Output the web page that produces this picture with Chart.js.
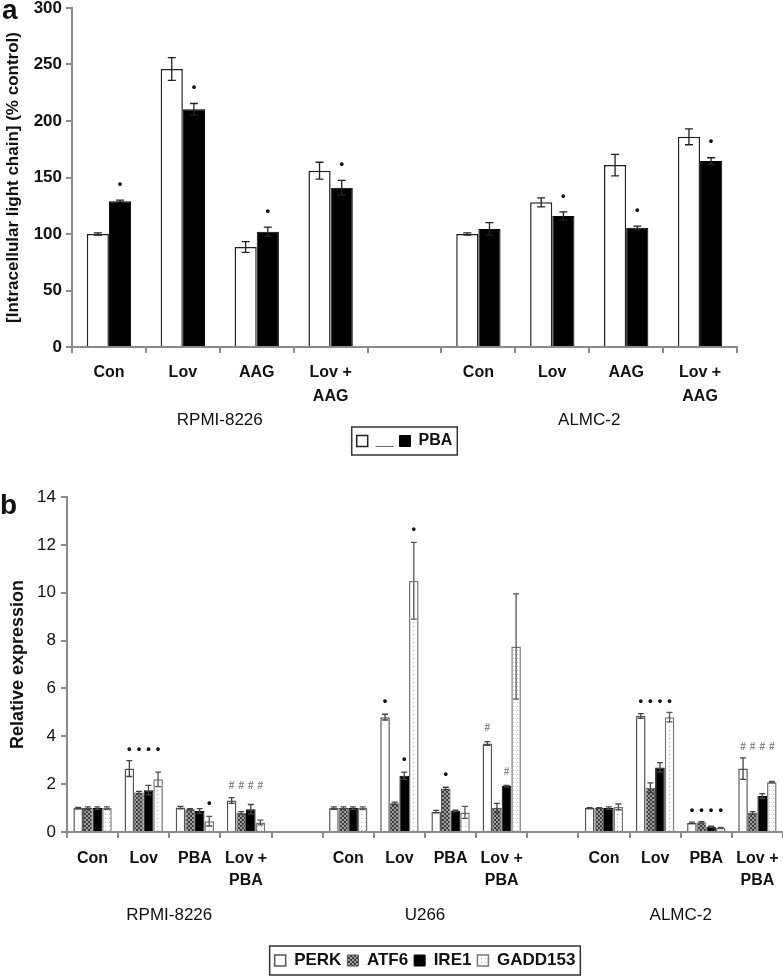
<!DOCTYPE html>
<html>
<head>
<meta charset="utf-8">
<script src="https://cdn.jsdelivr.net/npm/chart.js@4.4.1/dist/chart.umd.min.js"></script>
<style>
  html, body { margin:0; padding:0; background:#fff; overflow:hidden; }
  #wrap { position:relative; width:783px; height:977px; overflow:hidden; }
  canvas { position:absolute; left:0; }
  .plabel { position:absolute; font-family:"Liberation Sans", Arial, sans-serif; font-weight:bold; font-size:28px; line-height:28px; color:#111; }
</style>
</head>
<body>
<div id="wrap">
  <canvas id="ca" width="783" height="465" style="top:0"></canvas>
  <canvas id="cb" width="783" height="514" style="top:465px"></canvas>
  <div class="plabel" style="left:2px;top:-4px">a</div>
  <div class="plabel" style="left:0px;top:491px">b</div>
</div>
<script>
// ---------------- Panel a data ----------------
const categoriesA = ['Con', 'Lov', 'AAG', ['Lov +', 'AAG'], '', 'Con', 'Lov', 'AAG', ['Lov +', 'AAG']];
const cellLinesA = ['RPMI-8226', 'ALMC-2'];
const cellLineSpansA = [[0, 3], [5, 8]];
const controlA = [100, 246, 88.5, 156, null, 100, 128, 161, 186];
const controlErrA = [1, 10, 4.7, 7.5, null, 1, 4, 9.5, 7];
const pbaA = [129, 210.5, 102, 141, null, 104.5, 116, 105.5, 164.5];
const pbaErrA = [1, 5, 4, 6.5, null, 5.5, 3.5, 1.5, 3];
const pbaSigA = ['*', '*', '*', '*', '', '', '*', '*', '*'];
const yTicksA = { min: 0, max: 300, step: 50 };

// ---------------- Panel b data ----------------
const categoriesB = ['Con', 'Lov', 'PBA', ['Lov +', 'PBA'], '', 'Con', 'Lov', 'PBA', ['Lov +', 'PBA'], '', 'Con', 'Lov', 'PBA', ['Lov +', 'PBA']];
const cellLinesB = ['RPMI-8226', 'U266', 'ALMC-2'];
const cellLineSpansB = [[0, 3], [5, 8], [10, 13]];
const perk    = [1.0, 2.65, 1.02, 1.32, null, 1.0, 4.8, 0.85, 3.7, null, 1.0, 4.85, 0.38, 2.65];
const perkErr = [0.03, 0.33, 0.05, 0.12, null, 0.05, 0.12, 0.05, 0.08, null, 0.02, 0.1, 0.03, 0.45];
const atf6    = [1.0, 1.65, 0.95, 0.8, null, 1.0, 1.2, 1.82, 1.0, null, 1.0, 1.85, 0.4, 0.8];
const atf6Err = [0.05, 0.05, 0.03, 0.05, null, 0.05, 0.05, 0.05, 0.2, null, 0.02, 0.2, 0.03, 0.05];
const ire1    = [1.0, 1.75, 0.88, 0.95, null, 1.0, 2.35, 0.88, 1.92, null, 1.0, 2.7, 0.22, 1.5];
const ire1Err = [0.05, 0.2, 0.1, 0.2, null, 0.05, 0.15, 0.03, 0.03, null, 0.05, 0.2, 0.02, 0.1];
const gadd    = [1.0, 2.2, 0.45, 0.4, null, 1.0, 10.5, 0.82, 7.75, null, 1.05, 4.8, 0.17, 2.08];
const gaddErr = [0.05, 0.3, 0.2, 0.1, null, 0.05, 1.6, 0.25, 2.2, null, 0.12, 0.2, 0.02, 0.03];
const perkSig = ['', '*', '', '#', '', '', '*', '', '#', '', '', '*', '*', '#'];
const atf6Sig = ['', '*', '', '#', '', '', '', '*', '', '', '', '*', '*', '#'];
const ire1Sig = ['', '*', '', '#', '', '', '*', '', '#', '', '', '*', '*', '#'];
const gaddSig = ['', '*', '*', '#', '', '', '*', '', '', '', '', '*', '*', '#'];
const yTicksB = { min: 0, max: 14, step: 2 };

// ---------------- common ----------------
Chart.defaults.font.family = '"Liberation Sans", Arial, sans-serif';
Chart.defaults.color = '#111';

function makePattern(targetCanvas, kind) {
  const c = document.createElement('canvas');
  c.width = 4; c.height = 4;
  const g = c.getContext('2d');
  if (kind === 'check') {
    g.fillStyle = '#9c9c9c'; g.fillRect(0, 0, 4, 4);
    g.fillStyle = '#3e3e3e'; g.fillRect(0, 0, 2, 2); g.fillRect(2, 2, 2, 2);
  } else {
    g.fillStyle = '#ffffff'; g.fillRect(0, 0, 4, 4);
    g.fillStyle = '#b8b8b8'; g.fillRect(1, 1, 1, 1);
  }
  return targetCanvas.getContext('2d').createPattern(c, 'repeat');
}

const errPlugin = {
  id: 'errBars',
  afterDatasetsDraw(chart, args, opts) {
    const ctx = chart.ctx, y = chart.scales.y;
    chart.data.datasets.forEach((ds, i) => {
      if (!ds.err) return;
      const meta = chart.getDatasetMeta(i);
      meta.data.forEach((bar, j) => {
        const v = ds.data[j], e = ds.err[j];
        if (v == null || e == null) return;
        const yt = y.getPixelForValue(v + e), yb = y.getPixelForValue(Math.max(0, v - e));
        const cap = opts.cap || 4;
        ctx.save();
        ctx.strokeStyle = ds.errColor || '#222';
        ctx.lineWidth = 1.3;
        ctx.beginPath();
        ctx.moveTo(bar.x, yt); ctx.lineTo(bar.x, yb);
        ctx.moveTo(bar.x - cap, yt); ctx.lineTo(bar.x + cap, yt);
        ctx.moveTo(bar.x - cap, yb); ctx.lineTo(bar.x + cap, yb);
        ctx.stroke();
        ctx.restore();
      });
    });
  }
};

function drawMark(ctx, m, x, y) {
  ctx.save();
  ctx.textAlign = 'center';
  ctx.textBaseline = 'middle';
  if (m === '*') {
    ctx.fillStyle = '#111';
    ctx.font = 'bold 13px "Liberation Sans", Arial, sans-serif';
    ctx.fillText('\u2022', x, y);
  } else {
    ctx.fillStyle = '#888';
    ctx.font = 'bold 10px "Liberation Sans", Arial, sans-serif';
    ctx.fillText('#', x, y);
  }
  ctx.restore();
}

const sigPlugin = {
  id: 'sigMarks',
  afterDatasetsDraw(chart, args, opts) {
    const ctx = chart.ctx, y = chart.scales.y, dss = chart.data.datasets;
    const n = chart.data.labels.length;
    for (let j = 0; j < n; j++) {
      const withMarks = dss.filter(d => d.sig);
      const all = withMarks.length > 1 && dss.every(d => d.sig && d.sig[j]);
      let rowY = Infinity;
      if (all) dss.forEach(d => { rowY = Math.min(rowY, y.getPixelForValue(d.data[j] + (d.err[j] || 0))); });
      dss.forEach((d, i) => {
        if (!d.sig || !d.sig[j]) return;
        const bar = chart.getDatasetMeta(i).data[j];
        const yy = all ? rowY - opts.rowGap : y.getPixelForValue(d.data[j] + (d.err[j] || 0)) - opts.gap;
        drawMark(ctx, d.sig[j], bar.x, yy);
      });
    }
  }
};

const groupPlugin = {
  id: 'groups',
  afterDraw(chart, args, opts) {
    const ctx = chart.ctx, x = chart.scales.x;
    ctx.save();
    ctx.font = opts.font;
    ctx.fillStyle = '#111';
    ctx.textAlign = 'center';
    ctx.textBaseline = 'middle';
    opts.names.forEach((name, k) => {
      const [a, b] = opts.spans[k];
      const cx = (x.getPixelForValue(a) + x.getPixelForValue(b)) / 2 + (opts.dx || 0);
      ctx.fillText(name, cx, x.top + opts.offset);
    });
    ctx.restore();
  }
};

const legendBoxPlugin = {
  id: 'legendBox',
  afterDraw(chart) {
    const hb = chart.legend && chart.legend.legendHitBoxes;
    if (!hb || !hb.length) return;
    const ctx = chart.ctx;
    const l = Math.min(...hb.map(h => h.left)) - 5;
    const r = Math.max(...hb.map(h => h.left + h.width)) + 5;
    const t = hb[0].top - 6, b = hb[0].top + hb[0].height + 6;
    ctx.save();
    ctx.strokeStyle = '#333';
    ctx.lineWidth = 1.5;
    ctx.strokeRect(l, t, r - l, b - t);
    ctx.restore();
  }
};

function axisX(extra, padding, lineHeight) {
  return {
    grid: { drawOnChartArea: false, tickLength: 6, color: '#8a8a8a', lineWidth: 2, offset: true },
    border: { color: '#8a8a8a', width: 2 },
    ticks: { autoSkip: false, maxRotation: 0, padding: padding, color: '#111',
             font: { size: 16, weight: 'bold', lineHeight: lineHeight } },
    afterFit(s) { s.height += extra; s.paddingLeft = 0; s.paddingRight = 0; }
  };
}

// ---------------- Chart a ----------------
const ca = document.getElementById('ca');
new Chart(ca, {
  type: 'bar',
  data: {
    labels: categoriesA,
    datasets: [
      { label: '__', data: controlA, err: controlErrA, backgroundColor: '#fff', borderColor: '#222', borderWidth: 1.5 },
      { label: 'PBA', data: pbaA, err: pbaErrA, sig: pbaSigA, backgroundColor: '#000', borderColor: '#000', borderWidth: 1 }
    ]
  },
  options: {
    responsive: false, animation: false, devicePixelRatio: 1,
    layout: { padding: { top: 8, right: 46, bottom: 6, left: 0 } },
    datasets: { bar: { categoryPercentage: 0.6, barPercentage: 1.0 } },
    scales: {
      x: axisX(10, 8, '24px'),
      y: {
        min: yTicksA.min, max: yTicksA.max,
        ticks: { stepSize: yTicksA.step, padding: 4, color: '#111', font: { size: 17, weight: 'bold' } },
        grid: { drawOnChartArea: false, tickLength: 6, color: '#8a8a8a', lineWidth: 2 },
        border: { color: '#8a8a8a', width: 2 },
        title: { display: true, text: '[Intracellular light chain] (% control)', color: '#111',
                 font: { size: 17, weight: 'bold', lineHeight: 1.2 }, padding: { top: 3, bottom: 0 } },
        afterFit(s) { s.width = 72; s.paddingTop = 0; s.paddingBottom = 0; }
      }
    },
    plugins: {
      legend: { position: 'bottom', fullSize: false,
                labels: { boxWidth: 11, boxHeight: 11, padding: 6, color: '#111', font: { size: 16, weight: 'bold' } } },
      tooltip: { enabled: false },
      errBars: { cap: 4 },
      sigMarks: { gap: 16, rowGap: 16 },
      groups: { names: cellLinesA, spans: cellLineSpansA, offset: 73, font: '17px "Liberation Sans", Arial, sans-serif' }
    }
  },
  plugins: [errPlugin, sigPlugin, groupPlugin, legendBoxPlugin]
});

// ---------------- Chart b ----------------
const cb = document.getElementById('cb');
const checkPat = makePattern(cb, 'check');
const dotPat = makePattern(cb, 'dots');
new Chart(cb, {
  type: 'bar',
  data: {
    labels: categoriesB,
    datasets: [
      { label: 'PERK', data: perk, err: perkErr, sig: perkSig, backgroundColor: '#fff', borderColor: '#555', borderWidth: 1.5, errColor: '#444' },
      { label: 'ATF6', data: atf6, err: atf6Err, sig: atf6Sig, backgroundColor: checkPat, borderColor: '#555', borderWidth: 1, errColor: '#444' },
      { label: 'IRE1', data: ire1, err: ire1Err, sig: ire1Sig, backgroundColor: '#000', borderColor: '#000', borderWidth: 1, errColor: '#444' },
      { label: 'GADD153', data: gadd, err: gaddErr, sig: gaddSig, backgroundColor: dotPat, borderColor: '#777', borderWidth: 1.5, errColor: '#555' }
    ]
  },
  options: {
    responsive: false, animation: false, devicePixelRatio: 1,
    layout: { padding: { top: 32, right: 0, bottom: 0, left: 0 } },
    datasets: { bar: { categoryPercentage: 0.75, barPercentage: 1.0 } },
    scales: {
      x: axisX(44, 10, '22px'),
      y: {
        min: yTicksB.min, max: yTicksB.max,
        ticks: { stepSize: yTicksB.step, padding: 5, color: '#111', font: { size: 17 } },
        grid: { drawOnChartArea: false, tickLength: 6, color: '#8a8a8a', lineWidth: 2 },
        border: { color: '#8a8a8a', width: 2 },
        title: { display: true, text: 'Relative expression', color: '#111',
                 font: { size: 18, weight: 'bold', lineHeight: 1.2 }, padding: { top: 7, bottom: 0 } },
        afterFit(s) { s.width = 67; s.paddingTop = 0; s.paddingBottom = 0; }
      }
    },
    plugins: {
      legend: { position: 'bottom', fullSize: false,
                labels: { boxWidth: 11, boxHeight: 11, padding: 6, color: '#111', font: { size: 17, weight: 'bold' } } },
      tooltip: { enabled: false },
      errBars: { cap: 3 },
      sigMarks: { gap: 13, rowGap: 11 },
      groups: { names: cellLinesB, spans: cellLineSpansB, offset: 83, font: '17px "Liberation Sans", Arial, sans-serif' }
    }
  },
  plugins: [errPlugin, sigPlugin, groupPlugin, legendBoxPlugin]
});
</script>
</body>
</html>
